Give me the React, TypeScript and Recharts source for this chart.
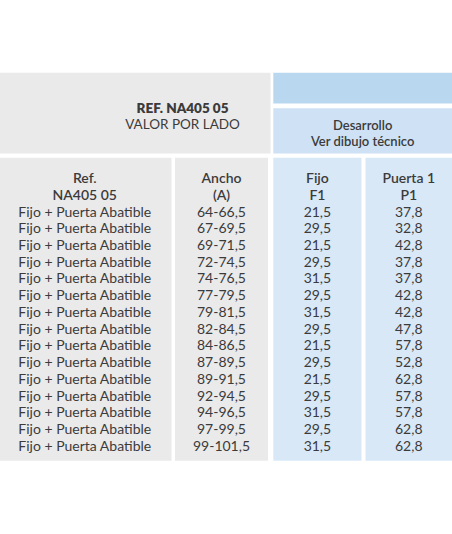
import React from "react";
import { ComposedChart, XAxis, YAxis, ReferenceArea, Scatter } from "recharts";

const titleLines = ["REF. NA405 05", "VALOR POR LADO"];
const developLines = ["Desarrollo", "Ver dibujo técnico"];
const columnHeads = [
  ["Ref.", "NA405 05"],
  ["Ancho", "(A)"],
  ["Fijo", "F1"],
  ["Puerta 1", "P1"]
];

const refs = [
  "Fijo + Puerta Abatible",
  "Fijo + Puerta Abatible",
  "Fijo + Puerta Abatible",
  "Fijo + Puerta Abatible",
  "Fijo + Puerta Abatible",
  "Fijo + Puerta Abatible",
  "Fijo + Puerta Abatible",
  "Fijo + Puerta Abatible",
  "Fijo + Puerta Abatible",
  "Fijo + Puerta Abatible",
  "Fijo + Puerta Abatible",
  "Fijo + Puerta Abatible",
  "Fijo + Puerta Abatible",
  "Fijo + Puerta Abatible",
  "Fijo + Puerta Abatible"
];
const anchos = [
  "64-66,5", "67-69,5", "69-71,5", "72-74,5", "74-76,5",
  "77-79,5", "79-81,5", "82-84,5", "84-86,5", "87-89,5",
  "89-91,5", "92-94,5", "94-96,5", "97-99,5", "99-101,5"
];
const fijoF1 = [21.5, 29.5, 21.5, 29.5, 31.5, 29.5, 31.5, 29.5, 21.5, 29.5, 21.5, 29.5, 31.5, 29.5, 31.5];
const puertaP1 = [37.8, 32.8, 42.8, 37.8, 37.8, 42.8, 42.8, 47.8, 57.8, 52.8, 62.8, 57.8, 57.8, 62.8, 62.8];

const fmt = (v: number) => v.toFixed(1).replace(".", ",");

// styles + layout
const W = 452;
const H = 534;
const FONT = "Lato, 'Open Sans', sans-serif";
const INK = "#3b3b3b";
const GREY = "#eaeaeb";
const BLUE_TOP = "#bad7f0";
const BLUE_MID = "#cfe2f5";
const BLUE_BODY = "#d9e8f7";

const HEAD_TOP = 72.7;
const HEAD_BOTTOM = 153.5;
const BLUE_SPLIT = [103.5, 108.3];
const BODY_TOP = 157.7;
const BODY_BOTTOM = 460.7;
const ROW0 = 178;
const PITCH = 16.73;

const COLUMNS = [
  { x1: 0, x2: 171.5, fill: GREY },
  { x1: 175, x2: 268, fill: GREY },
  { x1: 273.3, x2: 361.5, fill: BLUE_BODY },
  { x1: 365.5, x2: W, fill: BLUE_BODY }
];

const columnValues = [refs, anchos, fijoF1.map(fmt), puertaP1.map(fmt)];

const columnData = COLUMNS.map((col, c) => {
  const x = (col.x1 + col.x2) / 2 - (c === 0 ? 1 : 0);
  return [
    ...columnHeads[c].map((label, i) => ({ x, y: i, label, head: true })),
    ...columnValues[c].map((label, i) => ({ x, y: i + 2, label, head: false }))
  ];
});

function CellText(props: any) {
  const { cx, cy, payload } = props;
  return (
    <text
      x={cx}
      y={cy}
      dy="0.36em"
      textAnchor="middle"
      fontFamily={FONT}
      fontSize={14}
      fontWeight={payload.head ? 600 : 400}
      fill={INK}
    >
      {payload.label}
    </text>
  );
}

function HeadLabel(props: any) {
  const { viewBox, lines, dx = 0, offsets, weights, size = 13.5 } = props;
  if (!viewBox) return null;
  const cx = viewBox.x + viewBox.width / 2 + dx;
  const cy = viewBox.y + viewBox.height / 2;
  return (
    <g>
      {lines.map((t: string, i: number) => (
        <text
          key={t}
          x={cx}
          y={cy + offsets[i]}
          dy="0.36em"
          textAnchor="middle"
          fontFamily={FONT}
          fontSize={size}
          fontWeight={weights[i]}
          fill={INK}
        >
          {t}
        </text>
      ))}
    </g>
  );
}

export default function App() {
  return (
    <div style={{ position: "absolute", left: 0, top: 0, width: W, height: H, background: "#fff" }}>
      <ComposedChart width={W} height={H} margin={{ top: 0, right: 0, bottom: 0, left: 0 }}>
        <XAxis type="number" dataKey="x" domain={[0, W]} allowDataOverflow hide />
        <YAxis yAxisId="px" type="number" dataKey="y" domain={[0, H]} reversed allowDataOverflow hide />
        <YAxis
          yAxisId="row"
          type="number"
          dataKey="y"
          domain={[-ROW0 / PITCH, (H - ROW0) / PITCH]}
          reversed
          allowDataOverflow
          hide
        />

        <ReferenceArea
          yAxisId="px"
          x1={0}
          x2={270.5}
          y1={HEAD_TOP}
          y2={HEAD_BOTTOM}
          fill={GREY}
          fillOpacity={1}
          stroke="none"
          label={<HeadLabel lines={titleLines} dx={47.3} offsets={[-5.1, 11.2]} weights={[800, 400]} />}
        />
        <ReferenceArea
          yAxisId="px"
          x1={273.3}
          x2={W}
          y1={HEAD_TOP}
          y2={BLUE_SPLIT[0]}
          fill={BLUE_TOP}
          fillOpacity={1}
          stroke="none"
        />
        <ReferenceArea
          yAxisId="px"
          x1={273.3}
          x2={W}
          y1={BLUE_SPLIT[1]}
          y2={HEAD_BOTTOM}
          fill={BLUE_MID}
          fillOpacity={1}
          stroke="none"
          label={<HeadLabel lines={developLines} offsets={[-5.2, 10.3]} weights={[600, 600]} size={13} />}
        />

        {COLUMNS.map((col, c) => (
          <ReferenceArea
            key={c}
            yAxisId="px"
            x1={col.x1}
            x2={col.x2}
            y1={BODY_TOP}
            y2={BODY_BOTTOM}
            fill={col.fill}
            fillOpacity={1}
            stroke="none"
          />
        ))}

        {columnData.map((data, c) => (
          <Scatter
            key={c}
            yAxisId="row"
            data={data}
            isAnimationActive={false}
            shape={(p: any) => <CellText {...p} />}
          />
        ))}
      </ComposedChart>
    </div>
  );
}
